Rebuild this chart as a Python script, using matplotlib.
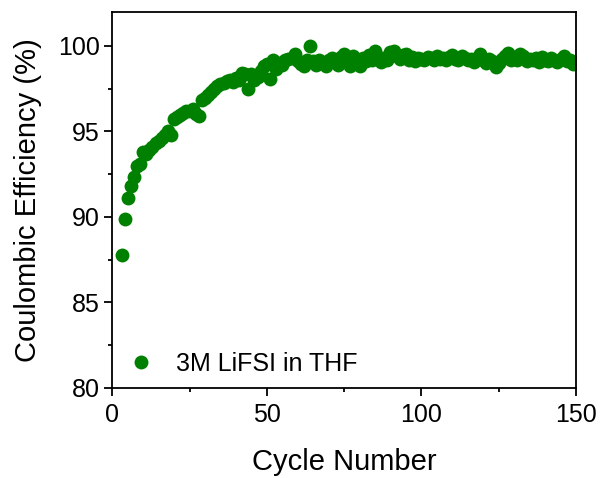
import matplotlib
matplotlib.use("Agg")
import matplotlib.pyplot as plt
from matplotlib.ticker import MultipleLocator

plt.rcParams["font.family"] = ["Liberation Sans", "DejaVu Sans"]

# ===== DATA =====
cycle_start = 3
cycle_end = 150
coulombic_eff = [
    87.75, 89.90, 91.10, 91.80, 92.30, 93.00, 93.10, 93.80, 93.65, 93.90,   # 3-12
    94.10, 94.30, 94.45, 94.60, 94.80, 95.00, 94.80, 95.70, 95.85, 95.95,   # 13-22
    96.10, 96.20, 96.20, 96.30, 96.00, 95.90, 96.85, 96.95, 97.10, 97.30,   # 23-32
    97.45, 97.65, 97.75, 97.85, 97.95, 98.00, 97.90, 98.10, 98.00, 98.40,   # 33-42
    98.35, 97.50, 98.35, 98.00, 98.20, 98.55, 98.80, 98.95, 98.05, 99.20,   # 43-52
    98.65, 99.00, 98.90, 99.15, 99.25, 99.30, 99.55, 99.10, 98.95, 98.85,   # 53-62
    99.20, 100.00, 99.10, 98.90, 99.20, 99.05, 98.85, 99.15, 99.30, 99.05,  # 63-72
    98.90, 99.35, 99.55, 99.10, 98.85, 99.40, 99.25, 98.85, 99.30, 99.10,   # 73-82
    99.45, 99.20, 99.70, 99.35, 99.05, 99.30, 99.15, 99.65, 99.70, 99.40,   # 83-92
    99.25, 99.45, 99.55, 99.20, 99.35, 99.10, 99.30, 99.25, 99.15, 99.35,   # 93-102
    99.30, 99.20, 99.40, 99.25, 99.30, 99.20, 99.35, 99.45, 99.25, 99.20,   # 103-112
    99.40, 99.30, 99.15, 99.25, 99.05, 99.30, 99.50, 99.20, 99.00, 99.25,   # 113-122
    99.10, 98.75, 99.00, 99.25, 99.40, 99.60, 99.20, 99.35, 99.15, 99.55,   # 123-132
    99.40, 99.10, 99.25, 99.15, 99.30, 99.05, 99.35, 99.20, 99.10, 99.30,   # 133-142
    99.15, 99.05, 99.25, 99.40, 99.10, 99.20, 98.95, 99.05,                 # 143-150
]
cycles = list(range(cycle_start, cycle_end + 1))
series_label = "3M LiFSI in THF"

# ===== PLOT =====
fig = plt.figure(figsize=(6.05, 4.78), dpi=100)
ax = fig.add_axes([0.1856, 0.1889, 0.7664, 0.7866])

ax.plot(cycles, coulombic_eff, linestyle="none", marker="o",
        markersize=10, color="#008000", markeredgewidth=0, label=series_label)

ax.set_xlim(0, 150)
ax.set_ylim(80, 102)
ax.xaxis.set_major_locator(MultipleLocator(50))
ax.xaxis.set_minor_locator(MultipleLocator(25))
ax.yaxis.set_major_locator(MultipleLocator(5))
ax.yaxis.set_minor_locator(MultipleLocator(2.5))

for side in ["top", "right", "left", "bottom"]:
    ax.spines[side].set_linewidth(1.3)

ax.tick_params(which="major", direction="out", length=5.8, width=1.3,
               labelsize=18)
ax.tick_params(which="minor", direction="out", length=3, width=1.3)
ax.tick_params(axis="x", which="major", pad=5)
ax.tick_params(axis="y", which="major", pad=3)

ax.set_xlabel("Cycle Number", fontsize=21)
ax.set_ylabel("Coulombic Efficiency (%)", fontsize=21)
ax.xaxis.set_label_coords(0.5, -0.16)
ax.yaxis.set_label_coords(-0.152, 0.5)

ax.legend(loc="center left", bbox_to_anchor=(0.034, 0.063), frameon=False,
          fontsize=18, handlelength=1.0, handletextpad=0.9,
          borderpad=0, borderaxespad=0)

plt.savefig("out.png", dpi=100)
plt.close()
